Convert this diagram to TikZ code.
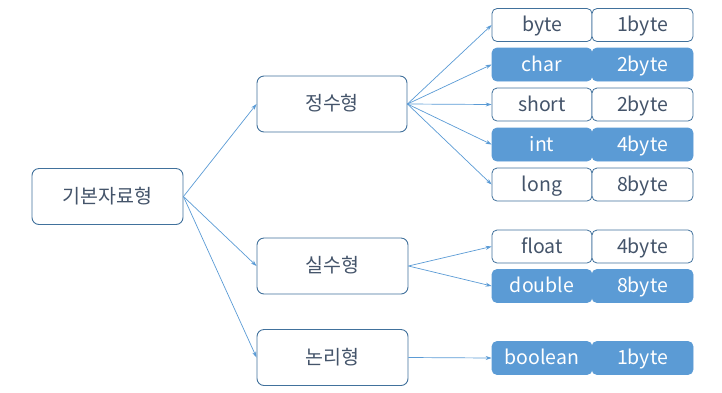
\documentclass[tikz,border=0pt]{standalone}
\usepackage{fontspec}
\setmainfont{Noto Sans CJK KR}
\usetikzlibrary{arrows.meta}
\definecolor{fillblue}{HTML}{5B9BD5}
\definecolor{edgeblue}{HTML}{41719C}
\definecolor{txt}{HTML}{44546A}
\tikzset{
  catbox/.style={draw=edgeblue, line width=0.9pt, rounded corners=7pt, fill=white, text=txt,
    minimum width=151pt, minimum height=56pt, font=\fontsize{19.5}{22}\selectfont, inner sep=0pt,
    text height=17pt, text depth=4pt},
  typebox/.style={draw=edgeblue, line width=0.8pt, rounded corners=5pt, fill=white, text=txt,
    minimum width=100pt, minimum height=33pt, font=\fontsize{19.5}{22}\selectfont, inner sep=0pt,
    text height=17pt, text depth=4pt},
  typefill/.style={typebox, fill=fillblue, draw=fillblue, text=white},
  conn/.style={draw=fillblue, line width=0.7pt, -{Stealth[length=6pt,width=4pt]}},
}
\begin{document}
\begin{tikzpicture}[x=1pt,y=-1pt]
\useasboundingbox (0,0) rectangle (722,392);
\node[catbox] (root) at (107.5,196.5) {기본자료형};
\node[catbox, minimum width=150pt] (int) at (332,104) {정수형};
\node[catbox, minimum width=151pt] (real) at (332.5,266) {실수형};
\node[catbox, minimum width=151pt] (bool) at (332.5,357.5) {논리형};
% right rows
\node[typebox] (byte) at (542,25) {byte};
\node[typebox, minimum width=101pt] (byteS) at (642.5,25) {1byte};
\node[typefill] (char) at (542,64.5) {char};
\node[typefill, minimum width=101pt] (charS) at (642.5,64.5) {2byte};
\node[typebox] (short) at (542,104.5) {short};
\node[typebox, minimum width=101pt] (shortS) at (642.5,104.5) {2byte};
\node[typefill] (intt) at (542,144.5) {int};
\node[typefill, minimum width=101pt] (inttS) at (642.5,144.5) {4byte};
\node[typebox] (long) at (542,184.5) {long};
\node[typebox, minimum width=101pt] (longS) at (642.5,184.5) {8byte};
\node[typebox] (float) at (542,246.5) {float};
\node[typebox, minimum width=101pt] (floatS) at (642.5,246.5) {4byte};
\node[typefill] (double) at (542,286) {double};
\node[typefill, minimum width=101pt] (doubleS) at (642.5,286) {8byte};
\node[typefill] (boolean) at (542,358) {boolean};
\node[typefill, minimum width=101pt] (booleanS) at (642.5,358) {1byte};
% connectors
\draw[conn] (root.east) -- (int.west);
\draw[conn] (root.east) -- (real.west);
\draw[conn] (root.east) -- (bool.west);
\foreach \t in {byte,char,short,intt,long} \draw[conn] (int.east) -- (\t.west);
\draw[conn] (real.east) -- (float.west);
\draw[conn] (real.east) -- (double.west);
\draw[conn] (bool.east) -- (boolean.west);
\end{tikzpicture}
\end{document}
